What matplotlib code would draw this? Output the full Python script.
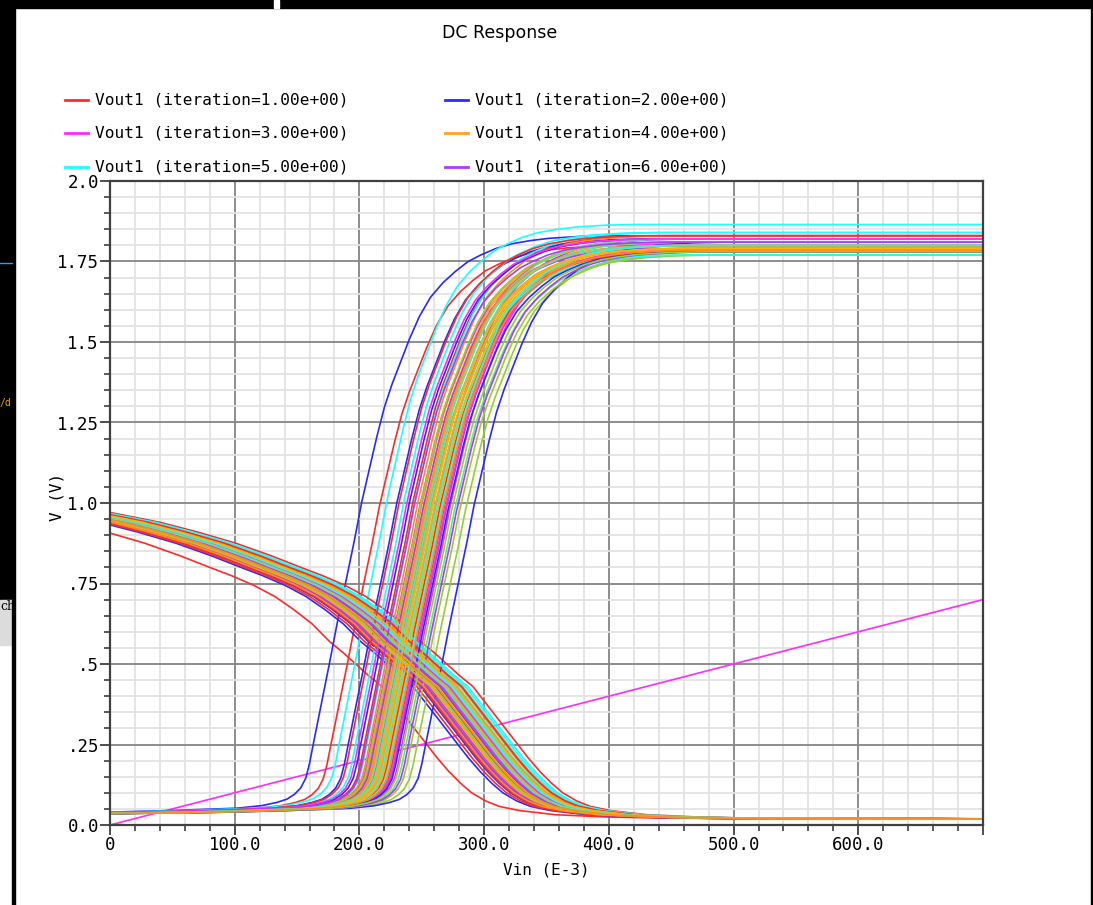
import matplotlib
matplotlib.use('Agg')
import matplotlib.pyplot as plt
import numpy as np
from matplotlib.lines import Line2D
from matplotlib.patches import Rectangle
from matplotlib.ticker import MultipleLocator

plt.rcParams['font.family'] = ['DejaVu Sans Mono', 'DejaVu Sans']

# shape of one rising Vout1 trace (offset from its 1.0 V crossing in mV, volts)
rise_dx = [-300, -200, -150, -100, -80, -68, -60, -54, -49, -45, -42, -39, -32.5, -26, -20, -13, -6,
           0, 6, 12, 18, 24, 31, 38, 46, 55, 65, 75, 85, 95, 107, 120, 135, 150, 175, 200, 500]
rise_v = [0.035, 0.04, 0.045, 0.052, 0.06, 0.07, 0.08, 0.095, 0.115, 0.145, 0.19, 0.25, 0.375, 0.5, 0.62, 0.75, 0.88,
          1.0, 1.1, 1.2, 1.29, 1.36, 1.43, 1.5, 1.57, 1.63, 1.675, 1.71, 1.74, 1.76, 1.78, 1.795, 1.805, 1.812, 1.818, 1.82, 1.82]

# shape of one falling trace (offset from its 0.5 V crossing in mV, volts)
fall_dx = [-300, -269, -230, -200, -169, -140, -117, -100, -82, -65, -50, -35, -21, -10, 0, 10, 21, 30, 38,
           47, 56, 65, 75, 84, 93, 104, 115, 131, 160, 200, 250, 550]
fall_v = [0.985, 0.97, 0.94, 0.91, 0.875, 0.835, 0.80, 0.775, 0.745, 0.71, 0.67, 0.625, 0.57, 0.535, 0.5, 0.465,
          0.43, 0.385, 0.345, 0.30, 0.255, 0.21, 0.165, 0.13, 0.10, 0.075, 0.058, 0.045, 0.032, 0.025, 0.021, 0.018]

# per iteration: Vin where rising trace hits 1.0 V, its top level, Vin where falling trace hits 0.5 V
rise_v1 = [216, 202, 273, 258, 223, 262, 285, 255, 264, 250,
           243, 230, 248, 266, 236, 270, 260, 252, 276, 257,
           268, 292, 256, 262, 245, 251, 280, 265, 259, 247,
           264, 240, 269, 254, 261, 278, 249, 263, 257, 253,
           232, 271, 238, 260, 266, 244, 274, 258, 255, 267]
rise_hi = [1.80, 1.83, 1.81, 1.79, 1.865, 1.82, 1.78, 1.80, 1.77, 1.81,
           1.83, 1.82, 1.79, 1.78, 1.84, 1.80, 1.78, 1.81, 1.77, 1.79,
           1.80, 1.81, 1.82, 1.78, 1.84, 1.79, 1.77, 1.80, 1.81, 1.83,
           1.78, 1.82, 1.79, 1.80, 1.77, 1.78, 1.81, 1.79, 1.82, 1.80,
           1.83, 1.78, 1.82, 1.79, 1.80, 1.81, 1.78, 1.79, 1.80, 1.785]
fall_x50 = [197, 222, 236, 240, 258, 230, 245, 238, 262, 234,
            270, 228, 242, 247, 255, 232, 250, 236, 244, 260,
            225, 246, 239, 252, 264, 233, 241, 249, 237, 257,
            229, 243, 251, 238, 266, 235, 248, 242, 254, 231,
            261, 240, 246, 236, 253, 244, 239, 256, 247, 241]

vin_x = [0, 700]
vin_y = [0.0, 0.7]

colors = ['#ff2a2a', '#2a2aff', '#ff2aff', '#ffa31a', '#1affff', '#a83cff',
          '#9acd32', '#ffb300', '#66e0a0', '#ff8c1a']

xticks = [0, 100, 200, 300, 400, 500, 600, 700]
xticklabels = ['0', '100.0', '200.0', '300.0', '400.0', '500.0', '600.0', '']
yticks = [0, 0.25, 0.5, 0.75, 1.0, 1.25, 1.5, 1.75, 2.0]
yticklabels = ['0.0', '.25', '.5', '.75', '1.0', '1.25', '1.5', '1.75', '2.0']

W, H = 1093, 905
def fx(px):
    return px / W
def fy(py):
    return 1 - py / H

fig = plt.figure(figsize=(W / 100, H / 100), dpi=100)
fig.patch.set_facecolor('white')
ax = fig.add_axes([fx(110), fy(825), (983 - 110) / W, (825 - 181) / H])

# Vin itself sits under the traces
ax.plot(vin_x, vin_y, color='#ff2aff', lw=1.2)
for k in range(len(rise_v1)):
    c = colors[k % len(colors)]
    xr = np.array(rise_dx) + rise_v1[k]
    yr = np.array(rise_v) * rise_hi[k] / 1.82
    ax.plot(xr, yr, color=c, lw=1.2)
    ax.plot(np.array(fall_dx) + fall_x50[k], fall_v, color=c, lw=1.2)

ax.set_xlim(0, 700)
ax.set_ylim(0, 2.0)
ax.set_xticks(xticks)
ax.set_xticklabels(xticklabels)
ax.set_yticks(yticks)
ax.set_yticklabels(yticklabels)
ax.xaxis.set_minor_locator(MultipleLocator(20))
ax.yaxis.set_minor_locator(MultipleLocator(0.05))
ax.set_axisbelow(True)
ax.grid(which='minor', color='#e3e3e3', lw=1.3)
ax.grid(which='major', color='#858585', lw=1.3)
ax.tick_params(which='major', direction='out', length=7, width=1.3, color='#404040',
               labelsize=12.5, pad=1)
ax.tick_params(which='minor', direction='out', length=4, width=1.2, color='#404040')
for s in ax.spines.values():
    s.set_color('#404040')
    s.set_linewidth(1.6)

fig.text(fx(500), fy(33), 'DC Response', ha='center', va='center', fontsize=12.5,
         family='DejaVu Sans')
fig.text(fx(546), fy(870), 'Vin (E-3)', ha='center', va='center', fontsize=11.5)
fig.text(fx(57), fy(497), 'V (V)', ha='center', va='center', fontsize=11.5, rotation=90)

# legend, row-major like the viewer
for i in range(6):
    col, row = i % 2, i // 2
    x0 = [65, 445][col]
    y0 = [100, 133, 167][row]
    fig.add_artist(Line2D([fx(x0), fx(x0 + 23)], [fy(y0), fy(y0)], color=colors[i], lw=2,
                          transform=fig.transFigure))
    fig.text(fx(x0 + 30), fy(y0), 'Vout1 (iteration=%.2e)' % (i + 1), ha='left', va='center',
             fontsize=11.6)

# window frame around the screenshot
fig.add_artist(Rectangle((0, fy(8)), 1, 8 / H, transform=fig.transFigure, color='black', zorder=10))
fig.add_artist(Rectangle((fx(274), fy(8)), 5 / W, 8 / H, transform=fig.transFigure, color='white', zorder=11))
fig.add_artist(Rectangle((0, fy(600)), 15 / W, 600 / H, transform=fig.transFigure, color='black', zorder=10))
fig.add_artist(Rectangle((0, fy(645)), 12 / W, 45 / H, transform=fig.transFigure, color='#dcdcdc', zorder=10))
fig.add_artist(Rectangle((fx(12), 0), 3 / W, fy(600), transform=fig.transFigure, color='black', zorder=10))
fig.add_artist(Rectangle((fx(1091), 0), 2 / W, 1, transform=fig.transFigure, color='black', zorder=10))
fig.add_artist(Line2D([0, fx(12)], [fy(263), fy(263)], color='#3399ff', lw=1, transform=fig.transFigure, zorder=11))
fig.text(fx(0), fy(607), 'ch', fontsize=9, va='center', ha='left', family='DejaVu Serif', zorder=12)
fig.text(fx(0), fy(403), '/d', fontsize=7, va='center', ha='left', color='#ff9900', zorder=12)

fig.savefig('out.png', dpi=100)
